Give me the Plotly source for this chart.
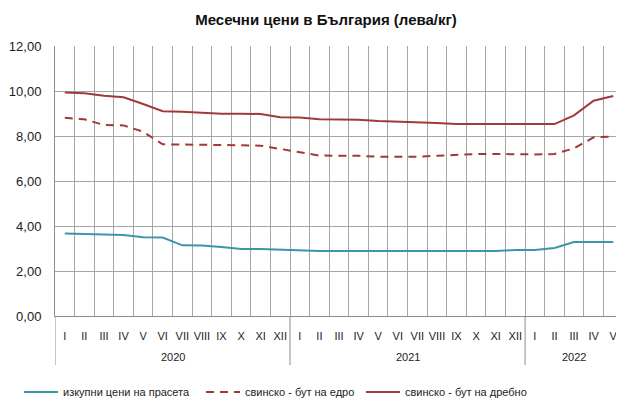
import plotly.graph_objects as go

years = ["2020"] * 12 + ["2021"] * 12 + ["2022"] * 5
months = ["I", "II", "III", "IV", "V", "VI", "VII", "VIII", "IX", "X", "XI", "XII"] * 2 + ["I", "II", "III", "IV", "V"]

piglets = [3.67, 3.64, 3.64, 3.60, 3.50, 3.49, 3.14, 3.13, 3.07, 2.98, 2.98, 2.95,
           2.90, 2.89, 2.89, 2.89, 2.89, 2.89, 2.89, 2.89, 2.89, 2.89, 2.89, 2.93,
           2.93, 3.02, 3.29, 3.29, 3.29]
wholesale = [8.81, 8.74, 8.49, 8.47, 8.19, 7.63, 7.62, 7.62, 7.61, 7.59, 7.57, 7.44,
             7.28, 7.13, 7.13, 7.12, 7.08, 7.08, 7.08, 7.12, 7.16, 7.20, 7.20, 7.18,
             7.18, 7.20, 7.45, 7.94, 7.97]
retail = [9.93, 9.90, 9.79, 9.72, 9.42, 9.10, 9.08, 9.04, 8.99, 8.99, 8.98, 8.83,
          8.82, 8.74, 8.74, 8.72, 8.67, 8.64, 8.63, 8.58, 8.53, 8.53, 8.53, 8.53,
          8.53, 8.53, 8.92, 9.57, 9.78]

names = ["изкупни цени на прасета", "свинско - бут на едро", "свинско - бут на дребно"]
title = "Месечни цени в България (лева/кг)"

n = len(months)
idx = list(range(n))

# page has an 8px body margin: figure is drawn 8px in from the top-left
W, H, OFF = 616, 395, 8
PL, PT, PR, PB = 55 - OFF, 46 - OFF, 623 - OFF, 316 - OFF
plot_h = PB - PT

fig = go.Figure()
fig.add_trace(go.Scatter(x=idx, y=piglets, name=names[0], mode="lines", legend="legend",
                         line=dict(color="#3A98A6", width=2)))
fig.add_trace(go.Scatter(x=idx, y=wholesale, name=names[1], mode="lines", legend="legend2",
                         line=dict(color="#9F3A38", width=2, dash="8px,6px")))
fig.add_trace(go.Scatter(x=idx, y=retail, name=names[2], mode="lines", legend="legend3",
                         line=dict(color="#9F3A38", width=2)))

# year group labels and dividers
groups = []
for i, yv in enumerate(years):
    if not groups or groups[-1][0] != yv:
        groups.append([yv, i, i])
    else:
        groups[-1][2] = i

annotations = []
shapes = []
for yv, s, e in groups:
    annotations.append(dict(x=(s + e) / 2, y=-41 / plot_h, xref="x", yref="paper",
                            text=yv, showarrow=False, yanchor="middle",
                            font=dict(size=11, color="#222222")))
    shapes.append(dict(type="line", xref="x", yref="paper", x0=s - 0.5, x1=s - 0.5,
                       y0=0, y1=-49 / plot_h, line=dict(color="#8C8C8C", width=1)))

font = "Liberation Sans, Arial, sans-serif"
leg = dict(orientation="h", xref="container", yref="container", xanchor="left",
           y=1 - (392 - OFF) / H, yanchor="middle",
           font=dict(size=11, color="#222222"), itemwidth=34, bgcolor="rgba(0,0,0,0)")
fig.update_layout(
    width=W, height=H,
    margin=dict(l=PL, r=W - PR, t=PT, b=H - PB, autoexpand=False),
    paper_bgcolor="white", plot_bgcolor="white",
    separators=", ",
    font=dict(family=font, size=11, color="#222222"),
    title=dict(text="<b>" + title + "</b>", x=(326 - OFF) / W, xanchor="center",
               y=1 - (20 - OFF) / H, yanchor="middle",
               font=dict(size=15, color="#111111")),
    showlegend=True,
    legend=dict(leg, x=(19 - OFF) / W),
    legend2=dict(leg, x=(201 - OFF) / W),
    legend3=dict(leg, x=(361 - OFF) / W),
    annotations=annotations,
    shapes=shapes,
)
fig.update_xaxes(range=[-0.5, n - 0.5], tickmode="array", tickvals=idx, ticktext=months,
                 showgrid=False, showline=True, linecolor="#8C8C8C", zeroline=False,
                 ticks="", tickangle=0, automargin=False, ticklabelstandoff=10,
                 tickfont=dict(size=11),
                 minor=dict(tickmode="array", tickvals=[i - 0.5 for i in range(n + 1)],
                            showgrid=True, gridcolor="#A6A6A6", gridwidth=1, ticks=""))
fig.update_yaxes(range=[0, 12], dtick=2, tickformat=".2f", showgrid=True,
                 gridcolor="#A6A6A6", gridwidth=1, showline=True, linecolor="#8C8C8C",
                 zeroline=False, ticks="", automargin=False, ticklabelstandoff=10,
                 tickfont=dict(size=13))

fig.write_html("out.html")
